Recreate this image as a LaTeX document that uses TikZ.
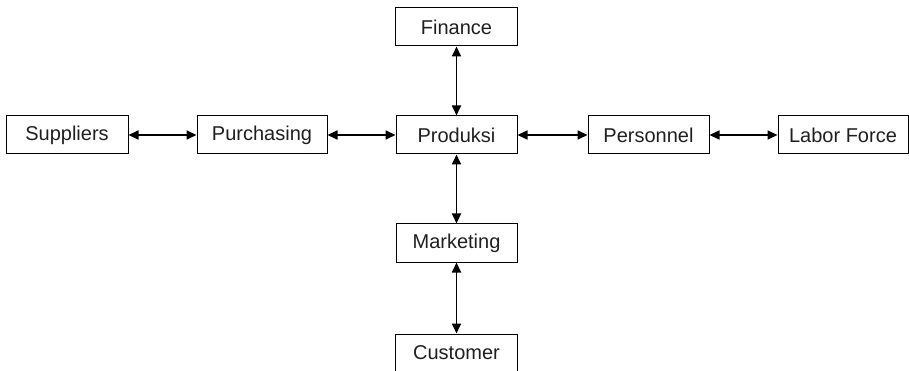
\documentclass[tikz,border=0pt]{standalone}
\usepackage{fontspec}
\setmainfont{Liberation Sans}
\usetikzlibrary{positioning, arrows.meta}

\tikzset{
	unit/.style={draw, line width=1pt, minimum height=38pt, inner sep=0pt, font=\fontsize{20}{24}\selectfont, text=black!88},
	link/.style={line width=1.7pt, {Triangle[length=10pt,width=9pt]}-{Triangle[length=10pt,width=9pt]}}
}

\begin{document}
\begin{tikzpicture}
				\useasboundingbox (0,0) rectangle (909pt,-371pt);
				\node[unit,minimum width=121pt] (prod) at (456.5pt,-135pt) {Produksi};
				\node[unit,minimum width=130pt,left=68pt of prod] (purch) {Purchasing};
				\node[unit,minimum width=122pt,left=68pt of purch] (supp) {Suppliers};
				\node[unit,minimum width=121pt,right=70pt of prod] (pers) {Personnel};
				\node[unit,minimum width=130pt,right=68pt of pers] (labor) {Labor Force};
				\node[unit,minimum width=122pt,above=69pt of prod] (fin) {Finance};
				\node[unit,minimum width=121pt,below=69pt of prod] (mkt) {Marketing};
				\node[unit,minimum width=122pt,below=71pt of mkt] (cust) {Customer};
				\draw[link] (supp) -- (purch);
				\draw[link] (purch) -- (prod);
				\draw[link] (prod) -- (pers);
				\draw[link] (pers) -- (labor);
				\draw[link] (fin) -- (prod);
				\draw[link] (prod) -- (mkt);
				\draw[link] (mkt) -- (cust);
			\end{tikzpicture}
\end{document}
